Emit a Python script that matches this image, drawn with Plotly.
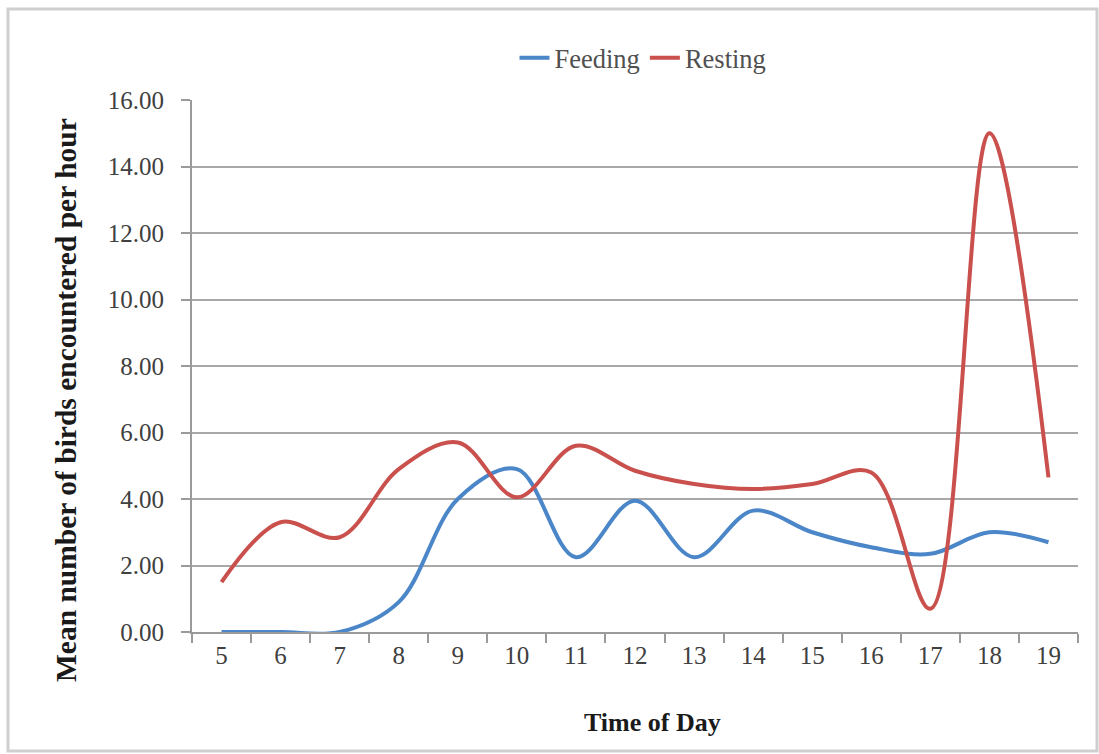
import plotly.graph_objects as go

# Hour of day (category axis)
hours = ["5", "6", "7", "8", "9", "10", "11", "12", "13", "14", "15", "16", "17", "18", "19"]

# Mean number of birds encountered per hour, by behaviour
feeding = [0.0, 0.0, 0.0, 0.9, 4.0, 4.9, 2.25, 3.95, 2.25, 3.65, 3.0, 2.55, 2.35, 3.0, 2.7]
resting = [1.5, 3.3, 2.85, 4.9, 5.7, 4.05, 5.6, 4.85, 4.45, 4.3, 4.45, 4.8, 0.7, 15.0, 4.65]

y_ticks = [0, 2, 4, 6, 8, 10, 12, 14, 16]
y_tick_text = [f"{v:.2f}" for v in y_ticks]

W, H = 1099, 754
L, R, T, B = 192, 21, 100, 122
pw, ph = W - L - R, H - T - B


def px_x(x):
    return (x - L) / pw


def px_y(y):
    return (H - B - y) / ph


FONT = "Liberation Serif"

fig = go.Figure()
fig.add_trace(go.Scatter(
    x=hours, y=feeding, name="Feeding", mode="lines",
    line=dict(color="#4a86c8", width=4, shape="spline", smoothing=1.0),
))
fig.add_trace(go.Scatter(
    x=hours, y=resting, name="Resting", mode="lines",
    line=dict(color="#c9504c", width=4, shape="spline", smoothing=1.0),
))

fig.update_layout(
    width=W, height=H,
    margin=dict(l=L, r=R, t=T, b=B),
    paper_bgcolor="white", plot_bgcolor="white",
    font=dict(family=FONT, size=25, color="#404040"),
    showlegend=True,
    legend=dict(
        orientation="h", x=px_x(643), y=px_y(58), xanchor="center", yanchor="middle",
        font=dict(family=FONT, size=26.5, color="#505050"),
        itemwidth=30, bgcolor="rgba(0,0,0,0)",
    ),
    xaxis=dict(
        type="category", tickson="boundaries", ticks="outside", ticklen=9,
        tickcolor="#9a9a9a", tickwidth=2,
        showline=True, linecolor="#9a9a9a", linewidth=2,
        showgrid=False, zeroline=False,
        tickfont=dict(family=FONT, size=25, color="#404040"),
        range=[-0.5, 14.5],
    ),
    yaxis=dict(
        range=[0, 16], tickvals=y_ticks, ticktext=y_tick_text,
        ticks="outside", ticklen=9, tickcolor="#9a9a9a", tickwidth=2,
        showline=True, linecolor="#9a9a9a", linewidth=2,
        showgrid=True, gridcolor="#a8a8a8", gridwidth=2,
        zeroline=False, ticklabelstandoff=12,
        tickfont=dict(family=FONT, size=25, color="#404040"),
    ),
    annotations=[
        dict(
            text="<b>Time of Day</b>", x=px_x(652), y=px_y(722),
            xref="paper", yref="paper", showarrow=False,
            xanchor="center", yanchor="middle",
            font=dict(family=FONT, size=26, color="#1a1a1a"),
        ),
        dict(
            text="<b>Mean number of birds encountered per hour</b>",
            x=px_x(66), y=px_y(400), xref="paper", yref="paper",
            showarrow=False, textangle=-90,
            xanchor="center", yanchor="middle",
            font=dict(family=FONT, size=29.5, color="#1a1a1a"),
        ),
    ],
    shapes=[
        dict(
            type="rect", xref="paper", yref="paper",
            x0=px_x(8), x1=px_x(1097), y0=px_y(751), y1=px_y(9),
            line=dict(color="#cfcfcf", width=3), fillcolor="rgba(0,0,0,0)",
            layer="below",
        ),
    ],
)

fig.write_html("out.html")
